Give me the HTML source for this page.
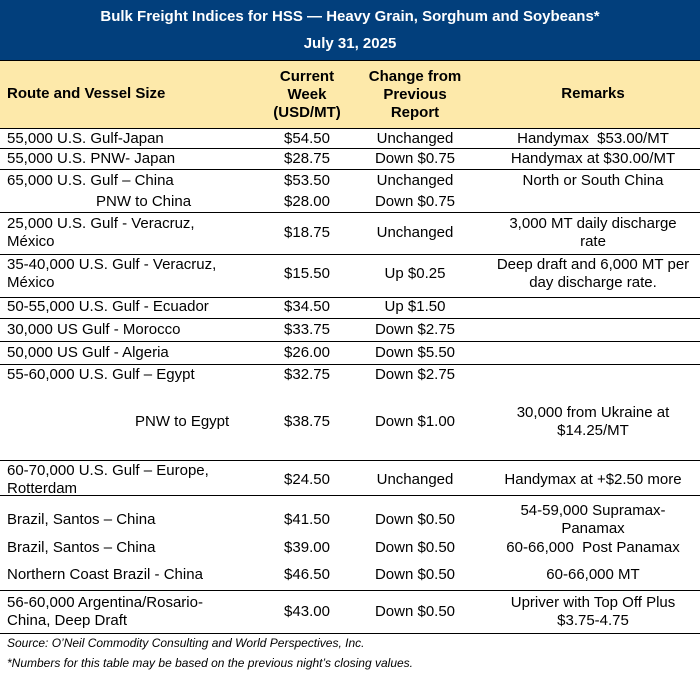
<!DOCTYPE html>
<html><head><meta charset="utf-8"><style>
body{margin:0;width:700px;height:677px;position:relative;background:#fff;font-family:"Liberation Sans",Arial,sans-serif;color:#000;overflow:hidden}
.t{position:absolute;white-space:nowrap;font-size:15px;line-height:18px;height:18px}
.c{transform:translateX(-50%);text-align:center}
.b{font-weight:bold}
.l{position:absolute;left:0;width:700px;height:1px;background:#000}
.f{position:absolute;left:7px;font-size:12px;font-style:italic;line-height:14px;white-space:nowrap}
</style></head><body>
<div style="position:absolute;left:0;top:0;width:700px;height:60px;background:#023f7c"></div>
<div style="position:absolute;left:0;top:60px;width:700px;height:68px;background:#fde9aa"></div>
<div class="l" style="top:60px"></div>
<div class="t c b" style="left:350px;top:8px;color:#fff">Bulk Freight Indices for HSS — Heavy Grain, Sorghum and Soybeans*</div>
<div class="t c b" style="left:350px;top:35px;color:#fff">July 31, 2025</div>
<div class="t b" style="left:7px;top:85px">Route and Vessel Size</div>
<div class="t c b" style="left:307px;top:68px">Current</div>
<div class="t c b" style="left:307px;top:86px">Week</div>
<div class="t c b" style="left:307px;top:104px">(USD/MT)</div>
<div class="t c b" style="left:415px;top:68px">Change from</div>
<div class="t c b" style="left:415px;top:86px">Previous</div>
<div class="t c b" style="left:415px;top:104px">Report</div>
<div class="t c b" style="left:593px;top:85px">Remarks</div>

<div class="l" style="top:128px"></div>
<div class="l" style="top:148px"></div>
<div class="l" style="top:169px"></div>
<div class="l" style="top:212px"></div>
<div class="l" style="top:254px"></div>
<div class="l" style="top:297px"></div>
<div class="l" style="top:318px"></div>
<div class="l" style="top:341px"></div>
<div class="l" style="top:364px"></div>
<div class="l" style="top:460px"></div>
<div class="l" style="top:495px"></div>
<div class="l" style="top:590px"></div>
<div class="l" style="top:633px"></div>

<div class="t" style="left:7px;top:130px">55,000 U.S. Gulf-Japan</div>
<div class="t c" style="left:307px;top:130px">$54.50</div>
<div class="t c" style="left:415px;top:130px">Unchanged</div>
<div class="t c" style="left:593px;top:130px">Handymax&nbsp; $53.00/MT</div>

<div class="t" style="left:7px;top:150px">55,000 U.S. PNW- Japan</div>
<div class="t c" style="left:307px;top:150px">$28.75</div>
<div class="t c" style="left:415px;top:150px">Down $0.75</div>
<div class="t c" style="left:593px;top:150px">Handymax at $30.00/MT</div>

<div class="t" style="left:7px;top:172px">65,000 U.S. Gulf – China</div>
<div class="t c" style="left:307px;top:172px">$53.50</div>
<div class="t c" style="left:415px;top:172px">Unchanged</div>
<div class="t c" style="left:593px;top:172px">North or South China</div>
<div class="t" style="left:96px;top:193px">PNW to China</div>
<div class="t c" style="left:307px;top:193px">$28.00</div>
<div class="t c" style="left:415px;top:193px">Down $0.75</div>

<div class="t" style="left:7px;top:215px">25,000 U.S. Gulf - Veracruz,</div>
<div class="t" style="left:7px;top:233px">México</div>
<div class="t c" style="left:307px;top:224px">$18.75</div>
<div class="t c" style="left:415px;top:224px">Unchanged</div>
<div class="t c" style="left:593px;top:215px">3,000 MT daily discharge</div>
<div class="t c" style="left:593px;top:233px">rate</div>

<div class="t" style="left:7px;top:256px">35-40,000 U.S. Gulf - Veracruz,</div>
<div class="t" style="left:7px;top:274px">México</div>
<div class="t c" style="left:307px;top:265px">$15.50</div>
<div class="t c" style="left:415px;top:265px">Up $0.25</div>
<div class="t c" style="left:593px;top:256px">Deep draft and 6,000 MT per</div>
<div class="t c" style="left:593px;top:274px">day discharge rate.</div>

<div class="t" style="left:7px;top:298px">50-55,000 U.S. Gulf - Ecuador</div>
<div class="t c" style="left:307px;top:298px">$34.50</div>
<div class="t c" style="left:415px;top:298px">Up $1.50</div>

<div class="t" style="left:7px;top:321px">30,000 US Gulf - Morocco</div>
<div class="t c" style="left:307px;top:321px">$33.75</div>
<div class="t c" style="left:415px;top:321px">Down $2.75</div>

<div class="t" style="left:7px;top:344px">50,000 US Gulf - Algeria</div>
<div class="t c" style="left:307px;top:344px">$26.00</div>
<div class="t c" style="left:415px;top:344px">Down $5.50</div>

<div class="t" style="left:7px;top:366px">55-60,000 U.S. Gulf – Egypt</div>
<div class="t c" style="left:307px;top:366px">$32.75</div>
<div class="t c" style="left:415px;top:366px">Down $2.75</div>
<div class="t" style="left:135px;top:413px">PNW to Egypt</div>
<div class="t c" style="left:307px;top:413px">$38.75</div>
<div class="t c" style="left:415px;top:413px">Down $1.00</div>
<div class="t c" style="left:593px;top:404px">30,000 from Ukraine at</div>
<div class="t c" style="left:593px;top:422px">$14.25/MT</div>

<div class="t" style="left:7px;top:462px">60-70,000 U.S. Gulf – Europe,</div>
<div class="t" style="left:7px;top:480px">Rotterdam</div>
<div class="t c" style="left:307px;top:471px">$24.50</div>
<div class="t c" style="left:415px;top:471px">Unchanged</div>
<div class="t c" style="left:593px;top:471px">Handymax at +$2.50 more</div>

<div class="t" style="left:7px;top:511px">Brazil, Santos – China</div>
<div class="t c" style="left:307px;top:511px">$41.50</div>
<div class="t c" style="left:415px;top:511px">Down $0.50</div>
<div class="t c" style="left:593px;top:502px">54-59,000 Supramax-</div>
<div class="t c" style="left:593px;top:520px">Panamax</div>

<div class="t" style="left:7px;top:539px">Brazil, Santos – China</div>
<div class="t c" style="left:307px;top:539px">$39.00</div>
<div class="t c" style="left:415px;top:539px">Down $0.50</div>
<div class="t c" style="left:593px;top:539px">60-66,000&nbsp; Post Panamax</div>

<div class="t" style="left:7px;top:566px">Northern Coast Brazil - China</div>
<div class="t c" style="left:307px;top:566px">$46.50</div>
<div class="t c" style="left:415px;top:566px">Down $0.50</div>
<div class="t c" style="left:593px;top:566px">60-66,000 MT</div>

<div class="t" style="left:7px;top:594px">56-60,000 Argentina/Rosario-</div>
<div class="t" style="left:7px;top:612px">China, Deep Draft</div>
<div class="t c" style="left:307px;top:603px">$43.00</div>
<div class="t c" style="left:415px;top:603px">Down $0.50</div>
<div class="t c" style="left:593px;top:594px">Upriver with Top Off Plus</div>
<div class="t c" style="left:593px;top:612px">$3.75-4.75</div>

<div class="f" style="top:636px">Source: O’Neil Commodity Consulting and World Perspectives, Inc.</div>
<div class="f" style="top:656px">*Numbers for this table may be based on the previous night’s closing values.</div>
</body></html>
